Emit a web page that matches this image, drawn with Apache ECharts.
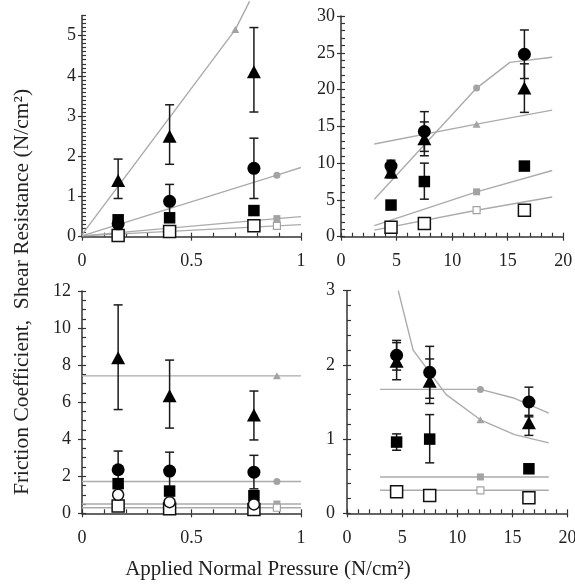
<!DOCTYPE html>
<html>
<head>
<meta charset="utf-8">
<script src="https://cdn.jsdelivr.net/npm/echarts@6/dist/echarts.min.js"></script>
<style>html,body{margin:0;padding:0;background:#fff;}#c{width:575px;height:585px;}</style>
</head>
<body>
<div id="c"></div>
<script>
// ---------- DATA ----------
const lowX = [0.165, 0.40, 0.785];
const highX = [4.5, 7.5, 16.5];

// Panel 1: shear resistance, low pressure
const p1Tri = [1.4, 2.5, 4.1];
const p1TriErr = [[0.95, 1.93], [1.8, 3.28], [3.1, 5.2]];
const p1Cir = [0.32, 0.88, 1.7];
const p1CirErr = [null, [0.5, 1.3], [0.95, 2.45]];
const p1Sq = [0.42, 0.47, 0.65];
const p1OSq = [0.03, 0.13, 0.27];
const p1LineTri = [[0, 0.05], [0.7, 5.15], [0.765, 5.85]];
const p1LineCir = [[0, 0.02], [0.89, 1.53], [1, 1.72]];
const p1LineSq = [[0, 0.02], [0.89, 0.45], [1, 0.5]];
const p1LineOSq = [[0, 0.02], [0.89, 0.27], [1, 0.3]];
const p1GrayTri = [[0.7, 5.15]];
const p1GrayCir = [[0.89, 1.53]];
const p1GraySq = [[0.89, 0.45]];
const p1GrayOSq = [[0.89, 0.27]];

// Panel 2: shear resistance, high pressure
const p2Tri = [8.8, 13.3, 20.2];
const p2TriErr = [[8.0, 9.6], [11.0, 15.6], [16.9, 23.5]];
const p2Cir = [9.6, 14.3, 24.8];
const p2CirErr = [[8.8, 10.4], [11.6, 17.0], [21.5, 28.1]];
const p2Sq = [4.3, 7.5, 9.6];
const p2SqErr = [null, [5.1, 10.0], null];
const p2OSq = [1.3, 1.8, 3.6];
const p2LineCir = [[3, 5.1], [12.2, 20.2], [15.2, 23.7], [19, 24.4]];
const p2LineTri = [[3, 12.6], [12.2, 15.3], [19, 17.2]];
const p2LineSq = [[3, 1.5], [12.2, 6.1], [19, 9.0]];
const p2LineOSq = [[3, 0.9], [12.2, 3.6], [19, 5.4]];
const p2GrayTri = [[12.2, 15.3]];
const p2GrayCir = [[12.2, 20.2]];
const p2GraySq = [[12.2, 6.1]];
const p2GrayOSq = [[12.2, 3.6]];

// Panel 3: friction coefficient, low pressure
const p3Tri = [8.4, 6.35, 5.3];
const p3TriErr = [[5.6, 11.25], [4.6, 8.27], [3.96, 6.6]];
const p3Cir = [2.35, 2.28, 2.22];
const p3CirErr = [[1.35, 3.36], [1.26, 3.3], [1.32, 3.13]];
const p3Sq = [1.6, 1.2, 0.95];
const p3OCir = [1.0, 0.6, 0.48];
const p3OSq = [0.4, 0.25, 0.2];
const p3LineTri = [[0, 7.42], [0.89, 7.42], [1, 7.42]];
const p3LineCir = [[0, 1.72], [0.89, 1.72], [1, 1.72]];
const p3LineSq = [[0, 0.5], [0.89, 0.5], [1, 0.5]];
const p3LineOSq = [[0, 0.3], [0.89, 0.3], [1, 0.3]];
const p3GrayTri = [[0.89, 7.42]];
const p3GrayCir = [[0.89, 1.72]];
const p3GraySq = [[0.89, 0.5]];
const p3GrayOSq = [[0.89, 0.3]];

// Panel 4: friction coefficient, high pressure
const p4Tri = [2.05, 1.78, 1.22];
const p4TriErr = [[1.8, 2.3], [1.48, 2.08], [1.05, 1.32]];
const p4Cir = [2.13, 1.9, 1.5];
const p4CirErr = [[1.93, 2.33], [1.55, 2.25], [1.3, 1.7]];
const p4Sq = [0.96, 1.0, 0.6];
const p4SqErr = [[0.85, 1.07], [0.68, 1.33], null];
const p4OSq = [0.29, 0.24, 0.21];
const p4LineTri = [[4.65, 3.0], [6, 2.2], [9, 1.6], [12.1, 1.26], [15.2, 1.06], [18.3, 0.95]];
const p4LineCir = [[3, 1.67], [12.1, 1.67], [15.2, 1.55], [18.3, 1.35]];
const p4LineSq = [[3, 0.49], [12.1, 0.49], [18.3, 0.49]];
const p4LineOSq = [[3, 0.31], [12.1, 0.31], [18.3, 0.31]];
const p4GrayTri = [[12.1, 1.26]];
const p4GrayCir = [[12.1, 1.67]];
const p4GraySq = [[12.1, 0.49]];
const p4GrayOSq = [[12.1, 0.31]];

// Tick labels
const lowXLabels = [0, 0.5, 1];
const highXLabels = [0, 5, 10, 15, 20];
const p1YLabels = [0, 1, 2, 3, 4, 5];
const p2YLabels = [0, 5, 10, 15, 20, 25, 30];
const p3YLabels = [0, 2, 4, 6, 8, 10, 12];
const p4YLabels = [0, 1, 2, 3];

const yTitle = 'Friction Coefficient,  Shear Resistance (N/cm²)';
const xTitle = 'Applied Normal Pressure (N/cm²)';

// ---------- STYLE / BUILD ----------
const FONT = 'Liberation Serif';
const AXIS = '#333';
const GRAY_LINE = '#ababab';
const GRAY_MK = '#a3a3a3';
const LABEL_SIZE = 18;

function steps(a, b, s) { const o = []; for (let i = 0; a + i * s <= b + 1e-9; i++) o.push(+(a + i * s).toFixed(4)); return o; }

const grids = [
  {left: 82, top: 15.5, width: 219, height: 221.2},
  {left: 341, top: 16, width: 222.3, height: 220.7},
  {left: 82, top: 291, width: 219, height: 222.3},
  {left: 347, top: 290.7, width: 220.5, height: 222.6}
];
const xDef = [
  {min: 0, max: 1, labels: lowXLabels, minor: steps(0, 1, 0.1)},
  {min: 0, max: 20, labels: highXLabels, minor: steps(0, 20, 1)},
  {min: 0, max: 1, labels: lowXLabels, minor: steps(0, 1, 0.1)},
  {min: 0, max: 20, labels: highXLabels, minor: steps(0, 20, 1)}
];
const yDef = [
  {min: 0, max: 5.5, labels: p1YLabels, minor: steps(0, 5.5, 0.1), margin: 6},
  {min: 0, max: 30, labels: p2YLabels, minor: steps(0, 30, 1), margin: 6},
  {min: 0, max: 12, labels: p3YLabels, minor: steps(0, 12, 0.5), margin: 11},
  {min: 0, max: 3, labels: p4YLabels, minor: steps(0, 3, 0.2), margin: 12}
];

const xAxes = [], yAxes = [];
grids.forEach((g, k) => {
  const xd = xDef[k], yd = yDef[k];
  xAxes.push({
    type: 'value', gridIndex: k, position: 'bottom', min: xd.min, max: xd.max,
    axisLine: {show: true, onZero: false, lineStyle: {color: AXIS, width: 1.5}},
    axisTick: {show: true, inside: false, length: 4, customValues: xd.labels, lineStyle: {color: AXIS, width: 1.2}},
    axisLabel: {show: true, customValues: xd.labels, margin: 16, fontFamily: FONT, fontSize: LABEL_SIZE, color: '#222',
      formatter: v => String(v)},
    splitLine: {show: false}
  });
  xAxes.push({
    type: 'value', gridIndex: k, position: 'bottom', min: xd.min, max: xd.max,
    axisLine: {show: false},
    axisTick: {show: true, inside: true, length: 4, customValues: xd.minor, lineStyle: {color: AXIS, width: 1.2}},
    axisLabel: {show: false},
    splitLine: {show: false}
  });
  yAxes.push({
    type: 'value', gridIndex: k, position: 'left', min: yd.min, max: yd.max,
    axisLine: {show: true, onZero: false, lineStyle: {color: AXIS, width: 1.5}},
    axisTick: {show: true, inside: false, length: 4, customValues: yd.labels, lineStyle: {color: AXIS, width: 1.2}},
    axisLabel: {show: true, customValues: yd.labels, margin: yd.margin, fontFamily: FONT, fontSize: LABEL_SIZE, color: '#222',
      formatter: v => String(v)},
    splitLine: {show: false}
  });
  yAxes.push({
    type: 'value', gridIndex: k, position: 'left', min: yd.min, max: yd.max,
    axisLine: {show: false},
    axisTick: {show: true, inside: true, length: 4, customValues: yd.minor, lineStyle: {color: AXIS, width: 1.2}},
    axisLabel: {show: false},
    splitLine: {show: false}
  });
});

const series = [];
function ax(k) { return {xAxisIndex: 2 * k, yAxisIndex: 2 * k}; }
function grayLine(k, pts, clip) {
  series.push(Object.assign({type: 'line', data: pts, showSymbol: false, symbol: 'none', silent: true,
    clip: clip !== false, lineStyle: {color: GRAY_LINE, width: 1.4}, z: 1}, ax(k)));
}
function grayMark(k, pts, sym, open) {
  series.push(Object.assign({type: 'scatter', data: pts, symbol: sym, symbolSize: sym === 'triangle' ? [8, 7] : 7,
    silent: true, itemStyle: open ? {color: '#fff', borderColor: GRAY_MK, borderWidth: 1.2, opacity: 1} : {color: GRAY_MK, opacity: 1}, z: 2}, ax(k)));
}
function errBars(k, xs, errs) {
  const data = [];
  xs.forEach((x, i) => { if (errs[i]) data.push([x, errs[i][0], errs[i][1]]); });
  series.push(Object.assign({type: 'custom', data: data, encode: {x: 0, y: [1, 2]}, silent: true, z: 3,
    renderItem: function (params, api) {
      const lo = api.coord([api.value(0), api.value(1)]);
      const hi = api.coord([api.value(0), api.value(2)]);
      const w = 4.5, st = {stroke: '#1a1a1a', lineWidth: 1.5};
      return {type: 'group', children: [
        {type: 'line', shape: {x1: lo[0], y1: lo[1], x2: hi[0], y2: hi[1]}, style: st},
        {type: 'line', shape: {x1: lo[0] - w, y1: lo[1], x2: lo[0] + w, y2: lo[1]}, style: st},
        {type: 'line', shape: {x1: hi[0] - w, y1: hi[1], x2: hi[0] + w, y2: hi[1]}, style: st}
      ]};
    }}, ax(k)));
}
function marks(k, xs, ys, sym, open) {
  let size = 12;
  if (sym === 'triangle') size = [14, 13];
  if (sym === 'rect') size = open ? 12 : 11.5;
  if (sym === 'circle') size = open ? 11 : 13;
  series.push(Object.assign({type: 'scatter', data: xs.map((x, i) => [x, ys[i]]), symbol: sym, symbolSize: size,
    silent: true, itemStyle: open ? {color: '#fff', borderColor: '#111', borderWidth: 1.5, opacity: 1} : {color: '#000', opacity: 1}, z: 4}, ax(k)));
}

// Panel 1
grayLine(0, p1LineTri, false); grayLine(0, p1LineCir); grayLine(0, p1LineSq); grayLine(0, p1LineOSq);
grayMark(0, p1GrayTri, 'triangle'); grayMark(0, p1GrayCir, 'circle'); grayMark(0, p1GraySq, 'rect'); grayMark(0, p1GrayOSq, 'rect', true);
errBars(0, lowX, p1TriErr); errBars(0, lowX, p1CirErr);
marks(0, lowX, p1OSq, 'rect', true); marks(0, lowX, p1Sq, 'rect'); marks(0, lowX, p1Cir, 'circle'); marks(0, lowX, p1Tri, 'triangle');
// Panel 2
grayLine(1, p2LineCir); grayLine(1, p2LineTri); grayLine(1, p2LineSq); grayLine(1, p2LineOSq);
grayMark(1, p2GrayTri, 'triangle'); grayMark(1, p2GrayCir, 'circle'); grayMark(1, p2GraySq, 'rect'); grayMark(1, p2GrayOSq, 'rect', true);
errBars(1, highX, p2TriErr); errBars(1, highX, p2CirErr); errBars(1, highX, p2SqErr);
marks(1, highX, p2OSq, 'rect', true); marks(1, highX, p2Sq, 'rect'); marks(1, highX, p2Tri, 'triangle'); marks(1, highX, p2Cir, 'circle');
// Panel 3
grayLine(2, p3LineTri); grayLine(2, p3LineCir); grayLine(2, p3LineSq); grayLine(2, p3LineOSq);
grayMark(2, p3GrayTri, 'triangle'); grayMark(2, p3GrayCir, 'circle'); grayMark(2, p3GraySq, 'rect'); grayMark(2, p3GrayOSq, 'rect', true);
errBars(2, lowX, p3TriErr); errBars(2, lowX, p3CirErr);
marks(2, lowX, p3OSq, 'rect', true); marks(2, lowX, p3Sq, 'rect'); marks(2, lowX, p3OCir, 'circle', true); marks(2, lowX, p3Cir, 'circle'); marks(2, lowX, p3Tri, 'triangle');
// Panel 4
grayLine(3, p4LineTri); grayLine(3, p4LineCir); grayLine(3, p4LineSq); grayLine(3, p4LineOSq);
grayMark(3, p4GrayTri, 'triangle'); grayMark(3, p4GrayCir, 'circle'); grayMark(3, p4GraySq, 'rect'); grayMark(3, p4GrayOSq, 'rect', true);
errBars(3, highX, p4TriErr); errBars(3, highX, p4CirErr); errBars(3, highX, p4SqErr);
marks(3, highX, p4OSq, 'rect', true); marks(3, highX, p4Sq, 'rect'); marks(3, highX, p4Tri, 'triangle'); marks(3, highX, p4Cir, 'circle');

const chart = echarts.init(document.getElementById('c'), null, {renderer: 'canvas'});
chart.setOption({
  animation: false,
  backgroundColor: '#fff',
  grid: grids.map(g => Object.assign({containLabel: false, outerBoundsMode: 'none'}, g)),
  xAxis: xAxes,
  yAxis: yAxes,
  series: series,
  graphic: [
    {type: 'text', x: 22, y: 292, rotation: Math.PI / 2, silent: true,
      style: {text: yTitle, font: '21.5px "Liberation Serif"', fill: '#222', textAlign: 'center', textVerticalAlign: 'middle'}},
    {type: 'text', x: 268, y: 569, silent: true,
      style: {text: xTitle, font: '21px "Liberation Serif"', fill: '#222', textAlign: 'center', textVerticalAlign: 'middle'}}
  ]
});
</script>
</body>
</html>
